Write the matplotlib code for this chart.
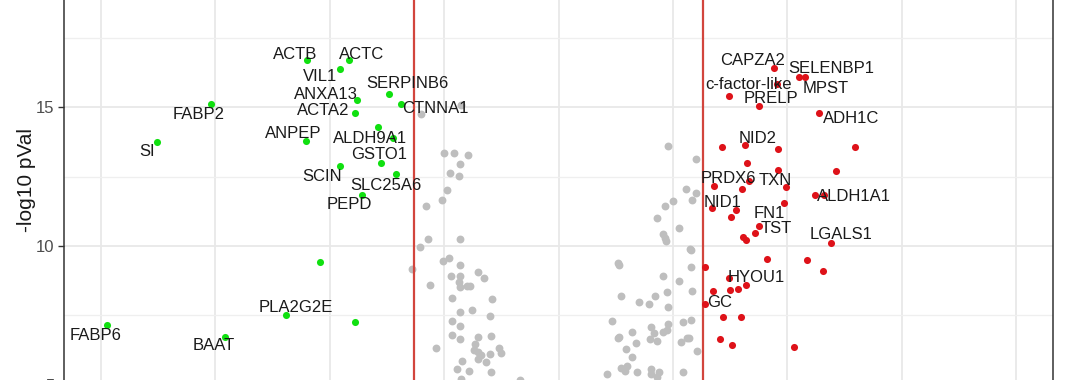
import matplotlib
matplotlib.use("Agg")
import matplotlib.pyplot as plt

# log2 fold change / -log10 p for the significant down genes (green)
down_gene = ["ACTB", "ACTC", "VIL1", "SERPINB6", "ANXA13", "CTNNA1", "FABP2", "ACTA2",
             "ALDH9A1", "", "ANPEP", "SI", "GSTO1", "SCIN", "SLC25A6", "PEPD", "",
             "PLA2G2E", "", "FABP6", "BAAT"]
down_fc = [-2.20, -1.83, -1.91, -1.48, -1.76, -1.38, -3.04, -1.78, -1.58, -1.45, -2.21,
           -3.51, -1.55, -1.91, -1.42, -1.72, -2.08, -2.38, -1.78, -3.94, -2.91]
down_p = [16.69, 16.69, 16.37, 15.47, 15.25, 15.11, 15.11, 14.79, 14.28, 13.89, 13.78,
          13.74, 12.99, 12.88, 12.59, 11.84, 9.43, 7.52, 7.27, 7.16, 6.73]

# significant up genes (red)
up_gene = ["CAPZA2", "SELENBP1", "MPST", "c-factor-like", "", "PRELP", "ADH1C", "", "NID2", "",
           "", "", "", "", "PRDX6", "", "", "TXN", "ALDH1A1", "", "NID1", "", "FN1", "",
           "TST", "", "", "", "LGALS1", "", "", "", "", "", "HYOU1", "", "", "", "GC",
           "", "", "", "", ""]
up_fc = [1.88, 2.15, 2.10, 1.91, 1.49, 1.75, 2.28, 1.43, 1.63, 1.92, 2.59, 1.65, 1.92, 2.42,
         1.66, 1.36, 1.60, 1.99, 2.32, 2.24, 1.34, 1.55, 1.97, 1.51, 1.75, 1.72, 1.61, 1.64,
         2.38, 1.82, 2.17, 2.31, 1.28, 1.49, 1.64, 1.57, 1.50, 1.35, 1.28, 1.44, 1.59, 1.41,
         1.52, 2.06]
up_p = [16.40, 16.08, 16.08, 15.83, 15.40, 15.04, 14.79, 13.56, 13.63, 13.49, 13.56, 12.99,
        12.73, 12.70, 12.34, 12.16, 12.05, 12.12, 11.84, 11.84, 11.37, 11.30, 11.55, 11.04,
        10.72, 10.47, 10.32, 10.22, 10.11, 9.53, 9.50, 9.10, 9.25, 8.85, 8.60, 8.45, 8.42,
        8.38, 7.91, 7.45, 7.45, 6.66, 6.44, 6.37]

# not significant (grey)
ns_fc = [-1.20, -0.85, -1.00, -0.91, -0.79, -0.86, -0.95, -0.87, -0.97, -1.02, -1.16, -1.14,
         -0.86, -1.21, -1.01, -0.96, -0.86, -1.28, -0.70, -0.65, -0.94, -0.86, -0.87, -0.86,
         -0.80, -0.77, -1.12, -0.93, -0.58, -0.86, -0.76, -0.60, -0.93, -0.86, -0.93, -0.86,
         -0.70, -0.59, -1.07, -0.73, -0.74, -0.70, -0.68, -0.60, -0.52, -0.50, -0.70, -0.84,
         -0.63, -0.89, -0.78, -0.59, -0.85, -0.34,
         0.96, 1.20, 1.11, 1.20, 1.17, 1.00, 0.93, 0.86, 0.91, 0.93, 0.94, 1.05, 1.15, 1.16,
         1.16, 0.52, 0.53, 0.91, 1.05, 1.17, 0.95, 0.55, 0.70, 0.79, 0.84, 0.96, 0.47, 0.64,
         0.81, 0.83, 0.80, 0.86, 0.91, 0.95, 0.96, 1.09, 1.16, 0.52, 0.53, 0.68, 0.59, 1.07,
         1.12, 1.14, 1.21, 0.64, 0.55, 0.58, 0.60, 0.42, 0.69, 0.81, 0.81, 0.88, 0.86, 1.09]
ns_p = [14.75, 15.07, 13.35, 13.35, 13.27, 12.95, 12.63, 12.52, 12.02, 11.66, 11.44, 10.25,
        10.25, 9.97, 9.46, 9.57, 9.32, 9.17, 9.07, 8.85, 8.92, 8.92, 8.71, 8.53, 8.56, 8.56,
        8.60, 8.13, 8.09, 7.63, 7.70, 7.48, 7.30, 7.12, 6.80, 6.66, 6.73, 6.76, 6.33, 6.48,
        6.26, 6.19, 6.08, 6.12, 6.33, 6.15, 5.94, 5.86, 5.83, 5.58, 5.50, 5.47, 5.22, 5.18,
        13.60, 13.13, 12.05, 11.91, 11.66, 11.62, 11.44, 11.01, 10.43, 10.29, 10.18, 10.65,
        9.89, 9.86, 9.25, 9.39, 9.32, 8.92, 8.74, 8.38, 8.35, 8.20, 7.99, 7.91, 8.20, 7.81,
        7.30, 6.91, 7.09, 6.87, 6.66, 6.58, 6.91, 6.98, 7.20, 7.27, 7.34, 6.69, 6.73, 6.51,
        6.30, 6.55, 6.69, 6.69, 6.22, 6.01, 5.61, 5.50, 5.68, 5.40, 5.47, 5.58, 5.40, 5.47,
        5.29, 5.47]

fc_cut = 1.26

# label offsets in pixels (text centre relative to the point)
offsets = {
    "ACTB": (-12, 6), "ACTC": (13, 6), "VIL1": (-20, -8), "SERPINB6": (18, 10),
    "ANXA13": (-31, 6), "CTNNA1": (35, -5), "FABP2": (-12, -11), "ACTA2": (-32, 2),
    "ALDH9A1": (-8, -11), "ANPEP": (-12, 7), "SI": (-10, -9), "GSTO1": (-2, 8),
    "SCIN": (-18, -11), "SLC25A6": (-10, -11), "PEPD": (-12, -10), "PLA2G2E": (10, 7),
    "FABP6": (-12, -11), "BAAT": (-12, -9),
    "CAPZA2": (-21, 8), "SELENBP1": (27, 9), "MPST": (27, -11), "c-factor-like": (-29, -1),
    "PRELP": (12, 7), "ADH1C": (32, -6), "NID2": (13, 7), "PRDX6": (-20, 2),
    "TXN": (-11, 7), "ALDH1A1": (30, -2), "NID1": (11, 5), "FN1": (-15, -11),
    "TST": (17, -3), "LGALS1": (10, 8), "HYOU1": (10, 7), "GC": (15, 2),
}

plt.rcParams['font.family'] = ['Liberation Sans', 'DejaVu Sans']

fig = plt.figure(figsize=(10.8, 3.8), dpi=100)
ax = fig.add_axes([64 / 1080, -20 / 380, 989 / 1080, 420 / 380])
ax.set_xlim(-4.32, 4.32)
ax.set_ylim(4.46, 19.57)

ax.set_xticks(range(-4, 5))
ax.set_xticks([], minor=True)
ax.set_yticks([5, 10, 15])
ax.set_yticks([7.5, 12.5, 17.5], minor=True)
ax.grid(True, which="major", color="#e8e8e8", linewidth=1.3, zorder=0)
ax.grid(True, which="minor", axis="y", color="#efefef", linewidth=0.9, zorder=0)
ax.tick_params(axis="x", length=0, labelbottom=False)
ax.tick_params(axis="y", which="major", length=4, width=1, color="#333333",
               labelsize=12, labelcolor="#4d4d4d", pad=3)
ax.tick_params(axis="y", which="minor", length=0)
for s in ax.spines.values():
    s.set_color("#333333")
    s.set_linewidth(1.1)
ax.set_axisbelow(True)

ax.scatter(ns_fc, ns_p, s=32, color="#bebebe", linewidths=0, zorder=2)
ax.scatter(down_fc, down_p, s=26, color="#10e010", linewidths=0, zorder=3)
ax.scatter(up_fc, up_p, s=26, color="#de1219", linewidths=0, zorder=3)

ax.axvline(-fc_cut, color="#d2453d", linewidth=1.6, zorder=2.5)
ax.axvline(fc_cut, color="#d2453d", linewidth=1.6, zorder=2.5)

for names, xs, ys in [(down_gene, down_fc, down_p), (up_gene, up_fc, up_p)]:
    for g, x, y in zip(names, xs, ys):
        if g == "":
            continue
        dx, dy = offsets[g]
        ax.annotate(g, (x, y), xytext=(dx, dy), textcoords="offset pixels",
                    ha="center", va="center", fontsize=12, color="#1a1a1a", zorder=4)

ax.set_ylabel("-log10 pVal", fontsize=15, color="#1a1a1a")
ax.yaxis.set_label_coords(-0.028, (400 - 180) / 420)

fig.savefig("out.png", dpi=100)
